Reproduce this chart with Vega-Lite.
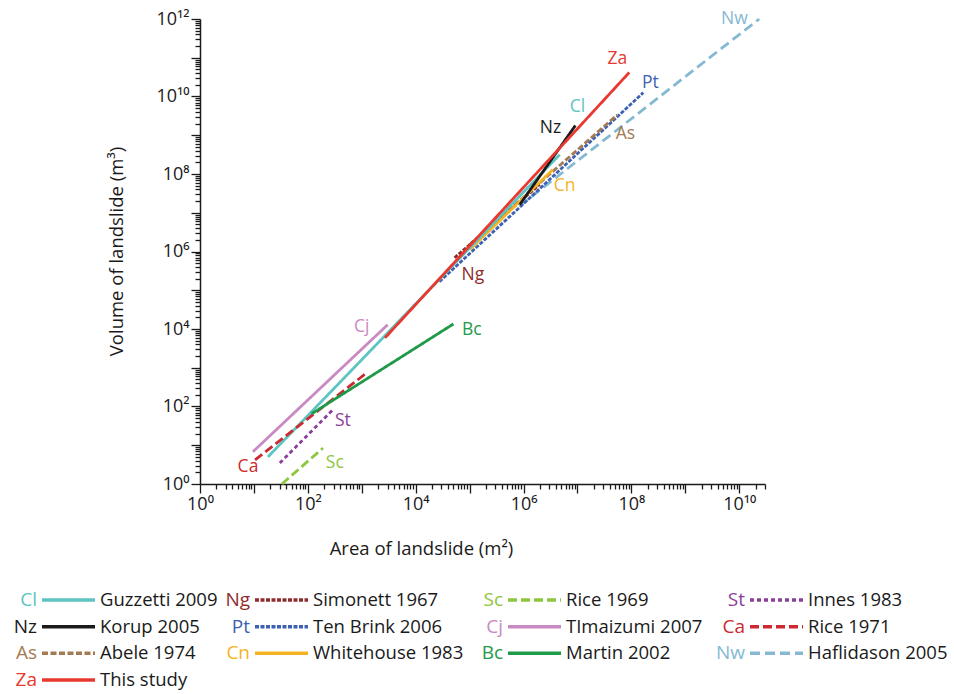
{
  "$schema": "https://vega.github.io/schema/vega-lite/v6.json",
  "autosize": {"type": "none"},
  "padding": {"left": 200, "top": 19, "right": 189, "bottom": 210},
  "width": 565,
  "height": 465,
  "config": {"view": {"stroke": null}, "font": "Open Sans"},
  "datasets": {
    "lines": [
      {"abbr": "Nw", "area": 8.51e5, "volume": 1.51e7}, {"abbr": "Nw", "area": 2.34e10, "volume": 1e12},
      {"abbr": "Pt", "area": 2.75e4, "volume": 1.66e5}, {"abbr": "Pt", "area": 1.66e8, "volume": 1.26e10},
      {"abbr": "As", "area": 1e5, "volume": 1.51e6}, {"abbr": "As", "area": 5.5e7, "volume": 3.39e9},
      {"abbr": "Ng", "area": 5.25e4, "volume": 6.92e5}, {"abbr": "Ng", "area": 2.0e6, "volume": 5.37e7},
      {"abbr": "Cn", "area": 1e5, "volume": 1.12e6}, {"abbr": "Cn", "area": 3.47e6, "volume": 1.29e8},
      {"abbr": "Cl", "area": 18.2, "volume": 5.01}, {"abbr": "Cl", "area": 4.68e6, "volume": 3.16e8},
      {"abbr": "Nz", "area": 8.51e5, "volume": 1.62e7}, {"abbr": "Nz", "area": 9.12e6, "volume": 1.78e9},
      {"abbr": "Cj", "area": 9.55, "volume": 6.76}, {"abbr": "Cj", "area": 3020, "volume": 12900},
      {"abbr": "Ca", "area": 10.5, "volume": 4.17}, {"abbr": "Ca", "area": 1290, "volume": 776},
      {"abbr": "St", "area": 30.2, "volume": 3.47}, {"abbr": "St", "area": 288, "volume": 81.3},
      {"abbr": "Sc", "area": 33.1, "volume": 1.0}, {"abbr": "Sc", "area": 191, "volume": 8.51},
      {"abbr": "Bc", "area": 117, "volume": 64.6}, {"abbr": "Bc", "area": 50100, "volume": 13500},
      {"abbr": "Za", "area": 2690, "volume": 5890}, {"abbr": "Za", "area": 9.12e7, "volume": 4.17e10}
    ],
    "labels": [
      {"abbr": "Nw", "area": 8.13e9, "volume": 9.77e11},
      {"abbr": "Za", "area": 5.5e7, "volume": 9.12e10},
      {"abbr": "Pt", "area": 2.24e8, "volume": 2.19e10},
      {"abbr": "Cl", "area": 1e7, "volume": 5.5e9},
      {"abbr": "Nz", "area": 3.16e6, "volume": 1.58e9},
      {"abbr": "As", "area": 7.76e7, "volume": 1.05e9},
      {"abbr": "Cn", "area": 5.75e6, "volume": 5.01e7},
      {"abbr": "Ng", "area": 1.15e5, "volume": 2.51e5},
      {"abbr": "Cj", "area": 1000, "volume": 11500},
      {"abbr": "Bc", "area": 1.1e5, "volume": 9550},
      {"abbr": "St", "area": 447, "volume": 42.7},
      {"abbr": "Ca", "area": 7.76, "volume": 2.75},
      {"abbr": "Sc", "area": 316, "volume": 3.47}
    ],
    "legend": [
      {"abbr": "Cl", "name": "Guzzetti 2009", "col": 0, "row": 0},
      {"abbr": "Nz", "name": "Korup 2005", "col": 0, "row": 1},
      {"abbr": "As", "name": "Abele 1974", "col": 0, "row": 2},
      {"abbr": "Za", "name": "This study", "col": 0, "row": 3},
      {"abbr": "Ng", "name": "Simonett 1967", "col": 1, "row": 0},
      {"abbr": "Pt", "name": "Ten Brink 2006", "col": 1, "row": 1},
      {"abbr": "Cn", "name": "Whitehouse 1983", "col": 1, "row": 2},
      {"abbr": "Sc", "name": "Rice 1969", "col": 2, "row": 0},
      {"abbr": "Cj", "name": "TImaizumi 2007", "col": 2, "row": 1},
      {"abbr": "Bc", "name": "Martin 2002", "col": 2, "row": 2},
      {"abbr": "St", "name": "Innes 1983", "col": 3, "row": 0},
      {"abbr": "Ca", "name": "Rice 1971", "col": 3, "row": 1},
      {"abbr": "Nw", "name": "Haflidason 2005", "col": 3, "row": 2}
    ]
  },
  "layer": [
    {
      "encoding": {
        "x": {
          "field": "area", "type": "quantitative",
          "scale": {"type": "log", "domain": [1, 3e10], "nice": false},
          "axis": {
            "values": [1,2,3,4,5,6,7,8,9,10,20,30,40,50,60,70,80,90,100,200,300,400,500,600,700,800,900,1000,2000,3000,4000,5000,6000,7000,8000,9000,1e4,2e4,3e4,4e4,5e4,6e4,7e4,8e4,9e4,1e5,2e5,3e5,4e5,5e5,6e5,7e5,8e5,9e5,1e6,2e6,3e6,4e6,5e6,6e6,7e6,8e6,9e6,1e7,2e7,3e7,4e7,5e7,6e7,7e7,8e7,9e7,1e8,2e8,3e8,4e8,5e8,6e8,7e8,8e8,9e8,1e9,2e9,3e9,4e9,5e9,6e9,7e9,8e9,9e9,1e10,2e10,3e10],
            "labelExpr": "abs(log(datum.value)/LN10 - round(log(datum.value)/LN10)) < 0.000001 && round(log(datum.value)/LN10) % 2 == 0 ? '10' + (round(log(datum.value)/LN10) >= 10 ? '¹' : '') + ['⁰','¹','²','³','⁴','⁵','⁶','⁷','⁸','⁹'][round(log(datum.value)/LN10) % 10] : ''",
            "labelFontSize": 18, "labelColor": "#1a1a1a", "labelOverlap": false, "labelBound": false, "labelFlush": false, "labelPadding": 2, "labelDx": -6,
            "tickSize": {"condition": {"test": "abs(log(datum.value)/LN10 - round(log(datum.value)/LN10)) < 0.000001", "value": 9}, "value": 5},
            "tickColor": "#1a1a1a", "tickWidth": 1.3, "domainColor": "#1a1a1a", "domainWidth": 1.5, "grid": false,
            "title": "Area of landslide (m²)", "titleFontSize": 18.5, "titleFontWeight": "normal", "titleColor": "#1a1a1a",
            "titleX": 221, "titleY": 64, "titleBaseline": "middle"
          }
        },
        "y": {
          "field": "volume", "type": "quantitative",
          "scale": {"type": "log", "domain": [1, 1e12], "nice": false},
          "axis": {
            "values": [1,2,3,4,5,6,7,8,9,10,20,30,40,50,60,70,80,90,100,200,300,400,500,600,700,800,900,1000,2000,3000,4000,5000,6000,7000,8000,9000,1e4,2e4,3e4,4e4,5e4,6e4,7e4,8e4,9e4,1e5,2e5,3e5,4e5,5e5,6e5,7e5,8e5,9e5,1e6,2e6,3e6,4e6,5e6,6e6,7e6,8e6,9e6,1e7,2e7,3e7,4e7,5e7,6e7,7e7,8e7,9e7,1e8,2e8,3e8,4e8,5e8,6e8,7e8,8e8,9e8,1e9,2e9,3e9,4e9,5e9,6e9,7e9,8e9,9e9,1e10,2e10,3e10,4e10,5e10,6e10,7e10,8e10,9e10,1e11,2e11,3e11,4e11,5e11,6e11,7e11,8e11,9e11,1e12],
            "labelExpr": "abs(log(datum.value)/LN10 - round(log(datum.value)/LN10)) < 0.000001 && round(log(datum.value)/LN10) % 2 == 0 ? '10' + (round(log(datum.value)/LN10) >= 10 ? '¹' : '') + ['⁰','¹','²','³','⁴','⁵','⁶','⁷','⁸','⁹'][round(log(datum.value)/LN10) % 10] : ''",
            "labelFontSize": 18, "labelColor": "#1a1a1a", "labelOverlap": false, "labelBound": false, "labelFlush": false, "labelPadding": 2,
            "tickSize": {"condition": {"test": "abs(log(datum.value)/LN10 - round(log(datum.value)/LN10)) < 0.000001", "value": 9}, "value": 5},
            "tickColor": "#1a1a1a", "tickWidth": 1.3, "domainColor": "#1a1a1a", "domainWidth": 1.5, "grid": false,
            "title": "Volume of landslide (m³)", "titleFontSize": 18.5, "titleFontWeight": "normal", "titleColor": "#1a1a1a",
            "titleX": -84, "titleY": 232, "titleBaseline": "middle", "titleAlign": "center"
          }
        },
        "color": {
          "field": "abbr", "type": "nominal", "legend": null,
          "scale": {
            "domain": ["Cl","Nz","As","Za","Ng","Pt","Cn","Sc","Cj","Bc","St","Ca","Nw"],
            "range": ["#5cc5c2","#1a1a1a","#a47a52","#e8382f","#8e2c2c","#3d62b3","#f5b324","#8dc63f","#c98ac4","#1f9a48","#8a3f98","#cc2a30","#85b9d3"]
          }
        }
      },
      "layer": [
        {
          "data": {"name": "lines"},
          "mark": {"type": "line", "strokeWidth": 2.8, "strokeCap": "butt"},
          "encoding": {
            "strokeDash": {
              "field": "abbr", "type": "nominal", "legend": null,
              "scale": {
                "domain": ["Cl","Nz","As","Za","Ng","Pt","Cn","Sc","Cj","Bc","St","Ca","Nw"],
                "range": [[1,0],[1,0],[6,2.5],[1,0],[4,1.5],[4,1.5],[1,0],[9,4],[1,0],[1,0],[4,3],[9,4],[10,5]]
              }
            }
          }
        },
        {
          "data": {"name": "labels"},
          "mark": {"type": "text", "fontSize": 17.5, "align": "center", "baseline": "middle"},
          "encoding": {"text": {"field": "abbr"}}
        }
      ]
    },
    {
      "data": {"name": "legend"},
      "encoding": {
        "x": {"field": "col", "type": "quantitative", "axis": null, "scale": {"domain": [0,1,2,3], "range": [-158,55,308,550], "nice": false, "zero": false}},
        "y": {"field": "row", "type": "quantitative", "axis": null, "scale": {"domain": [0,3], "range": [581,661], "nice": false, "zero": false}}
      },
      "layer": [
        {
          "mark": {"type": "text", "fontSize": 19, "align": "right", "baseline": "middle", "dx": -5},
          "encoding": {
            "text": {"field": "abbr"},
            "color": {"field": "abbr", "type": "nominal", "legend": null,
              "scale": {
                "domain": ["Cl","Nz","As","Za","Ng","Pt","Cn","Sc","Cj","Bc","St","Ca","Nw"],
                "range": ["#5cc5c2","#1a1a1a","#a47a52","#e8382f","#8e2c2c","#3d62b3","#f5b324","#8dc63f","#c98ac4","#1f9a48","#8a3f98","#cc2a30","#85b9d3"]
              }}
          }
        },
        {
          "mark": {"type": "rule", "strokeWidth": 3.5, "x2Offset": 53},
          "encoding": {
            "x2": {"field": "col"},
            "color": {"field": "abbr", "type": "nominal", "legend": null},
            "strokeDash": {"field": "abbr", "type": "nominal", "legend": null,
              "scale": {
                "domain": ["Cl","Nz","As","Za","Ng","Pt","Cn","Sc","Cj","Bc","St","Ca","Nw"],
                "range": [[1,0],[1,0],[6,2.5],[1,0],[4,1.5],[4,1.5],[1,0],[9,4],[1,0],[1,0],[4,3],[9,4],[10,5]]
              }}
          }
        },
        {
          "mark": {"type": "text", "fontSize": 18.5, "align": "left", "baseline": "middle", "dx": 58, "color": "#1a1a1a"},
          "encoding": {"text": {"field": "name"}}
        }
      ]
    }
  ],
  "resolve": {"scale": {"x": "independent", "y": "independent"}}
}
